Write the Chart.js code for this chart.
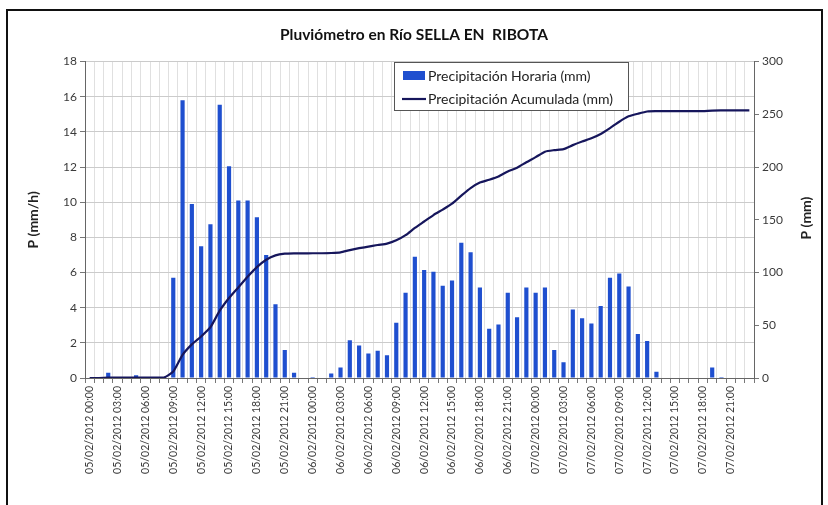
<!DOCTYPE html>
<html>
<head>
<meta charset="utf-8">
<script src="https://cdn.jsdelivr.net/npm/chart.js@4.4.0/dist/chart.umd.min.js"></script>
<style>
  html, body { margin: 0; padding: 0; background: #fff; overflow: hidden; }
  #wrap { position: relative; width: 828px; height: 505px; }
  #frame { position: absolute; left: 6px; top: 9px; width: 813px; height: 600px; border: 2px solid #111; border-bottom: none; }
  canvas { position: absolute; left: 0; top: 0; }
</style>
</head>
<body>
<div id="wrap">
  <div id="frame"></div>
  <canvas id="chart" width="828" height="505"></canvas>
</div>
<script>
// hourly rain gauge readings, 05/02/2012 00:00 .. 07/02/2012 23:00
const days = ['05/02/2012', '06/02/2012', '07/02/2012'];
const hours = ['00:00', '01:00', '02:00', '03:00', '04:00', '05:00', '06:00', '07:00',
               '08:00', '09:00', '10:00', '11:00', '12:00', '13:00', '14:00', '15:00',
               '16:00', '17:00', '18:00', '19:00', '20:00', '21:00', '22:00', '23:00'];
const labels = [];
days.forEach(d => hours.forEach(h => labels.push(d + ' ' + h)));

// P (mm/h)
const horaria = [
    0, 0, 0.3, 0, 0, 0.15, 0, 0, 0, 5.7,
    15.8, 9.9, 7.5, 8.75, 15.55, 12.05, 10.1, 10.1, 9.15, 7.0,
    4.2, 1.6, 0.3, 0, 0.05, 0, 0.25, 0.6, 2.15, 1.85,
    1.4, 1.55, 1.3, 3.15, 4.85, 6.9, 6.15, 6.05, 5.25, 5.55,
    7.7, 7.15, 5.15, 2.8, 3.05, 4.85, 3.45, 5.15, 4.85, 5.15,
    1.6, 0.9, 3.9, 3.4, 3.1, 4.1, 5.7, 5.95, 5.2, 2.5,
    2.1, 0.35, 0, 0, 0, 0, 0, 0.6, 0.05, 0,
    0, 0
];

// P (mm), accumulated
const acumulada = [
    0, 0, 0.3, 0.3, 0.3, 0.45, 0.45, 0.45, 0.45, 6.2,
    22, 31.9, 39.4, 48.2, 63.8, 75.8, 85.9, 96, 105.1, 112.1,
    116.3, 117.9, 118.2, 118.2, 118.3, 118.3, 118.5, 119.1, 121.3, 123.1,
    124.5, 126.1, 127.4, 130.5, 135.4, 142.3, 148.4, 154.5, 159.7, 165.3,
    172.9, 180.1, 185.3, 188, 191.1, 195.9, 199.4, 204.6, 209.4, 214.6,
    216.1, 217, 220.8, 224.2, 227.3, 231.4, 237, 243, 248.1, 250.6,
    252.7, 253, 253, 253, 253, 253, 253, 253.6, 253.7, 253.7,
    253.7, 253.7
];

const FONT = 'Lato, "Open Sans", sans-serif';
const TEXT = '#3a3a3a';

// legend box inside the plot + right axis title reading upwards
const extras = {
    id: 'extras',
    afterDraw(chart) {
        const c = chart.ctx;
        const ds = chart.data.datasets;
        c.save();
        c.fillStyle = '#fff';
        c.fillRect(394.5, 62.5, 234, 48);
        c.strokeStyle = '#555';
        c.lineWidth = 1;
        c.strokeRect(394.5, 62.5, 234, 48);

        c.fillStyle = ds[0].backgroundColor;
        c.fillRect(403, 71, 22, 9);
        c.strokeStyle = ds[1].borderColor;
        c.lineWidth = 2.2;
        c.beginPath();
        c.moveTo(402, 99);
        c.lineTo(426, 99);
        c.stroke();

        c.fillStyle = '#222';
        c.font = '14px ' + FONT;
        c.textBaseline = 'middle';
        c.fillText(ds[0].label, 428, 76);
        c.fillText(ds[1].label, 428, 99);

        c.translate(806, 218);
        c.rotate(-Math.PI / 2);
        c.textAlign = 'center';
        c.font = 'bold 14px ' + FONT;
        c.fillStyle = '#222';
        c.fillText('P (mm)', 0, 0);
        c.restore();
    }
};

new Chart(document.getElementById('chart'), {
    data: {
        labels: labels,
        datasets: [
            {
                type: 'bar',
                label: 'Precipitación Horaria (mm)',
                data: horaria,
                backgroundColor: '#1f4fcf',
                barPercentage: 0.45,
                categoryPercentage: 1.0,
                yAxisID: 'y',
                order: 2
            },
            {
                type: 'line',
                label: 'Precipitación Acumulada (mm)',
                data: acumulada,
                borderColor: '#16165c',
                borderWidth: 2.2,
                pointRadius: 0,
                tension: 0.2,
                fill: false,
                yAxisID: 'y2',
                order: 1
            }
        ]
    },
    options: {
        responsive: false,
        animation: false,
        layout: { padding: 0 },
        plugins: {
            legend: { display: false },
            tooltip: { enabled: false },
            title: {
                display: true,
                text: 'Pluviómetro en Río SELLA EN  RIBOTA',
                color: '#111',
                font: { family: FONT, size: 15.5, weight: 'bold' },
                padding: { top: 26, bottom: 17 }
            }
        },
        scales: {
            x: {
                ticks: {
                    autoSkip: false,
                    maxRotation: 90,
                    minRotation: 90,
                    padding: 3,
                    color: TEXT,
                    font: { family: FONT, size: 10.5 },
                    callback: (v, i) => (i % 3 === 0 ? labels[i] : '')
                },
                grid: { color: '#e0e0e0', offset: true, tickLength: 5, tickColor: '#777' },
                border: { color: '#666' },
                afterFit: s => { s.height = 127; }
            },
            y: {
                position: 'left',
                min: 0,
                max: 18,
                ticks: { stepSize: 2, padding: 3, color: TEXT, font: { family: FONT, size: 12 } },
                grid: { color: '#cbcbcb', tickLength: 5, tickColor: '#777' },
                border: { color: '#666' },
                title: {
                    display: true,
                    text: 'P (mm/h)',
                    color: '#222',
                    font: { family: FONT, size: 14, weight: 'bold' },
                    padding: { top: 25, bottom: 0 }
                },
                afterFit: s => { s.width = 85; }
            },
            y2: {
                position: 'right',
                min: 0,
                max: 300,
                ticks: { stepSize: 50, padding: 3, color: TEXT, font: { family: FONT, size: 12 } },
                grid: { drawOnChartArea: false, tickLength: 5, tickColor: '#777' },
                border: { color: '#666' },
                afterFit: s => { s.width = 74; }
            }
        }
    },
    plugins: [extras]
});
</script>
</body>
</html>
